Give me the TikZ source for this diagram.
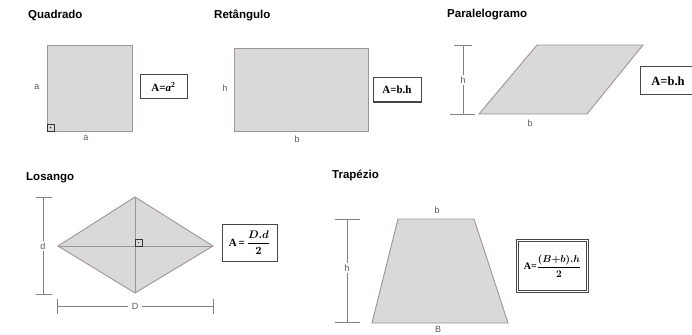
\documentclass[tikz,border=0pt]{standalone}
\usepackage{fontspec}
\setsansfont{Liberation Sans}
\setmainfont{Liberation Serif}
\definecolor{shapefill}{RGB}{217,217,217}
\definecolor{shapeedge}{RGB}{160,148,148}
\definecolor{lblcol}{RGB}{90,90,90}
\definecolor{dimcol}{RGB}{130,130,130}
\definecolor{boxcol}{RGB}{70,70,70}
\begin{document}
\begin{tikzpicture}[x=1pt,y=-1pt,
  figshape/.style={fill=shapefill, draw=shapeedge, line width=0.9pt, line join=miter},
  ttl/.style={font=\sffamily\bfseries\fontsize{11.5}{13}\selectfont, anchor=west, inner sep=0pt},
  lbl/.style={font=\sffamily\fontsize{9}{10}\selectfont, text=lblcol, inner sep=1.5pt},
  dimline/.style={draw=dimcol, line width=0.8pt},
  fbox/.style={draw=boxcol, line width=1pt, fill=white, inner sep=0pt, font=\rmfamily\bfseries\fontsize{11}{13}\selectfont},
  rightmark/.style={draw=black!80, line width=0.6pt},
]
\path[use as bounding box, fill=white] (0,0) rectangle (692,334);
\clip (0,0) rectangle (692,334);

% titles
\node[ttl] (tq) at (28,15) {Quadrado};
\node[ttl] (tr) at (214,15) {Retângulo};
\node[ttl] (tp) at (447,15) {Paralelogramo};
\node[ttl] (tl) at (26,178) {Losango};
\node[ttl] (tt) at (332,175) {Trapézio};

% ---------- Quadrado
\coordinate (q1) at (47,45);
\coordinate (q2) at (132,131);
\draw[figshape] (q1) rectangle (q2);
\draw[rightmark] (47,124) rectangle (54,131);
\fill[black!80] (50.5,127.5) circle (0.8pt);
\node[lbl] (qa1) at (37,87) {a};
\node[lbl] (qa2) at (86,138) {a};
\node[fbox, minimum width=47pt, minimum height=24pt] (fq) at (163.5,87) {A=\textit{a}\textsuperscript{2}};

% ---------- Retangulo
\coordinate (r1) at (234,48);
\coordinate (r2) at (368,131);
\draw[figshape] (r1) rectangle (r2);
\node[lbl] (rh) at (225,88) {h};
\node[lbl] (rb) at (297,139) {b};
\node[fbox, minimum width=48pt, minimum height=24pt] (fr) at (397,90) {A=b.h};

% ---------- Paralelogramo
\coordinate (p1) at (479,114);
\coordinate (p2) at (587,114);
\coordinate (p3) at (643,45);
\coordinate (p4) at (537,45);
\draw[figshape] (p1) -- (p2) -- (p3) -- (p4) -- cycle;
\node[lbl] (ph) at (463,80) {h};
\coordinate (pht) at (463,45);
\coordinate (phb) at (463,114);
\draw[dimline] (454,45) -- (472,45);
\draw[dimline] (450,114) -- (475,114);
\draw[dimline] (pht) -- (ph.north);
\draw[dimline] (ph.south) -- (phb);
\node[lbl] (pb) at (530,123) {b};
\node[fbox, minimum width=56pt, minimum height=28pt, font=\rmfamily\bfseries\fontsize{12.5}{14}\selectfont] (fp) at (668,81) {A=b.h};

% ---------- Losango
\coordinate (lL) at (58,246);
\coordinate (lR) at (213,246);
\coordinate (lT) at (135,197);
\coordinate (lB) at (135,293);
\draw[figshape] (lL) -- (lT) -- (lR) -- (lB) -- cycle;
\draw[draw=shapeedge, line width=0.9pt] (lL) -- (lR) (lT) -- (lB);
\draw[rightmark] (135,239) rectangle (142,246);
\fill[black!80] (138.5,242.5) circle (0.7pt);
% d
\node[lbl] (ld) at (43,246) {d};
\draw[dimline] (36,197) -- (52,197);
\draw[dimline] (36,294) -- (52,294);
\coordinate (ldt) at (43,197);
\coordinate (ldb) at (43,294);
\draw[dimline] (ldt) -- (ld.north);
\draw[dimline] (ld.south) -- (ldb);
% D
\node[lbl, inner sep=4pt] (lD) at (135,306) {D};
\coordinate (lDl) at (57,306);
\coordinate (lDr) at (213,306);
\draw[dimline] (57,299) -- (57,314);
\draw[dimline] (213,299) -- (213,314);
\draw[dimline] (lDl) -- (lD.west);
\draw[dimline] (lD.east) -- (lDr);
\node[fbox, minimum width=55pt, minimum height=37pt] (fl) at (249.5,242.5)
  {A\,=\,{\boldmath$\displaystyle\frac{D.d}{\mathbf{2}}$}};

% ---------- Trapezio
\coordinate (t1) at (398,219);
\coordinate (t2) at (474,219);
\coordinate (t3) at (508,323);
\coordinate (t4) at (372,323);
\draw[figshape] (t1) -- (t2) -- (t3) -- (t4) -- cycle;
\node[lbl] (tb) at (437,210) {b};
\node[lbl, inner sep=0pt] (tB) at (438,329) {B};
\node[lbl] (th) at (347,268) {h};
\draw[dimline] (335,219) -- (360,219);
\draw[dimline] (335,322) -- (360,322);
\coordinate (tht) at (347,219);
\coordinate (thb) at (347,322);
\draw[dimline] (tht) -- (th.north);
\draw[dimline] (th.south) -- (thb);
\node[fbox, double, double distance=1.3pt, line width=0.6pt, minimum width=70pt, minimum height=51pt,
  font=\rmfamily\bfseries\fontsize{10}{12}\selectfont] (ft) at (552.5,266)
  {A={\boldmath$\displaystyle\frac{(B{+}b).h}{\mathbf{2}}$}};
\end{tikzpicture}
\end{document}
